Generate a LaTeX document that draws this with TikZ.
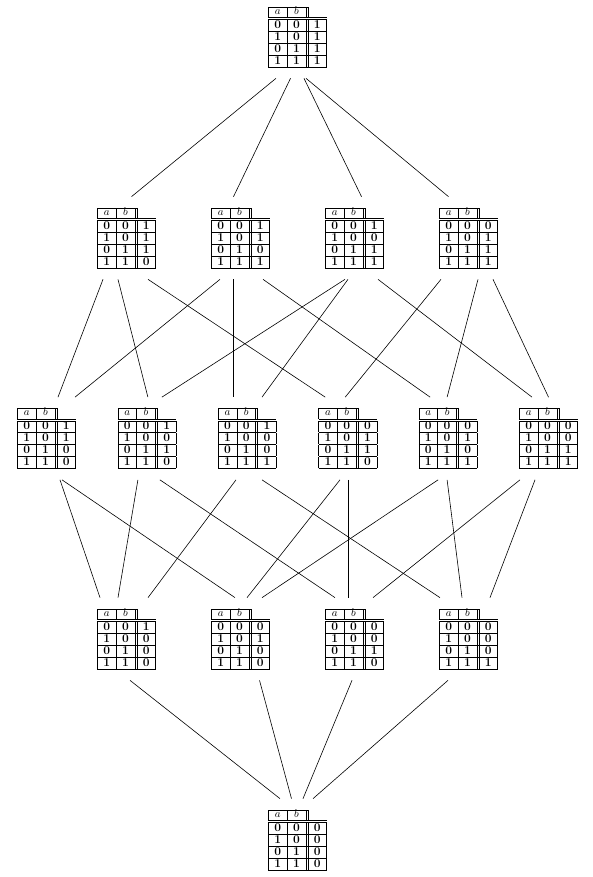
\documentclass[tikz,border=0pt]{standalone}
\usetikzlibrary{calc}

% truth table of a two-place function
\newcommand{\bits}[3]{\rule[-2.6pt]{0pt}{11.4pt}\textbf{\large #1} & \textbf{\large #2} & \textbf{\large #3}}
\newcommand{\truth}[4]{%
	{\renewcommand{\arraystretch}{0.72}%
	\setlength{\tabcolsep}{6pt}%
	\setlength{\arrayrulewidth}{0.5pt}%
	\begin{tabular}{|c|c||c|}
		\cline{1-2}
		\fontsize{11}{13}\selectfont$a$ & \fontsize{11}{13}\selectfont$b$ & \multicolumn{1}{c}{} \\ \hline\hline
		\bits{0}{0}{#1} \\ \hline
		\bits{1}{0}{#2} \\ \hline
		\bits{0}{1}{#3} \\ \hline
		\bits{1}{1}{#4} \\ \hline
	\end{tabular}}}

% line from below one table to above another, with shifts along x
\newcommand{\conn}[4]{\draw[line width=0.6pt] ($(#1.south)+(#2,-11)$) -- ($(#3.north)+(#4,11)$);}

\tikzset{tbl/.style={inner sep=0pt}}

\begin{document}
\begin{tikzpicture}[x=1pt,y=1pt]
		\useasboundingbox (0,0) rectangle (592,877);
		
		% top
		\node[tbl] (T) at (297.5,840) {\truth{1}{1}{1}{1}};
		
		% three ones
		\node[tbl] (P1) at (126.5,639) {\truth{1}{1}{1}{0}};
		\node[tbl] (P2) at (240.5,639) {\truth{1}{1}{0}{1}};
		\node[tbl] (P3) at (354.5,639) {\truth{1}{0}{1}{1}};
		\node[tbl] (P4) at (468.5,639) {\truth{0}{1}{1}{1}};
		
		% two ones
		\node[tbl] (Q1) at (46.5,438.5)  {\truth{1}{1}{0}{0}};
		\node[tbl] (Q2) at (146.9,438.5) {\truth{1}{0}{1}{0}};
		\node[tbl] (Q3) at (247.3,438.5) {\truth{1}{0}{0}{1}};
		\node[tbl] (Q4) at (347.7,438.5) {\truth{0}{1}{1}{0}};
		\node[tbl] (Q5) at (448.1,438.5) {\truth{0}{1}{0}{1}};
		\node[tbl] (Q6) at (548.5,438.5) {\truth{0}{0}{1}{1}};
		
		% one one
		\node[tbl] (R1) at (126.5,238) {\truth{1}{0}{0}{0}};
		\node[tbl] (R2) at (240.5,238) {\truth{0}{1}{0}{0}};
		\node[tbl] (R3) at (354.5,238) {\truth{0}{0}{1}{0}};
		\node[tbl] (R4) at (468.5,238) {\truth{0}{0}{0}{1}};
		
		% bottom
		\node[tbl] (B) at (297.5,37) {\truth{0}{0}{0}{0}};
		
		% top to three ones
		\conn{T}{-21.5}{P1}{5}
		\conn{T}{-7}{P2}{-7}
		\conn{T}{6.5}{P3}{7}
		\conn{T}{8.5}{P4}{-20}
		
		% three ones to two ones
		\conn{P1}{-23.5}{Q1}{11.5}
		\conn{P1}{-8.5}{Q2}{1}
		\conn{P1}{21.5}{Q4}{-22.5}
		\conn{P2}{-20.5}{Q1}{28.5}
		\conn{P2}{-7.5}{Q3}{-14.3}
		\conn{P2}{22.5}{Q5}{-18}
		\conn{P3}{-9.5}{Q2}{15}
		\conn{P3}{-6.5}{Q3}{14.7}
		\conn{P3}{23.5}{Q6}{-16.5}
		\conn{P4}{-27.5}{Q4}{-2.5}
		\conn{P4}{9.5}{Q5}{-1}
		\conn{P4}{24.5}{Q6}{0}
		
		% two ones to one one
		\conn{Q1}{13.5}{R1}{-26.5}
		\conn{Q1}{15.5}{R2}{-5.5}
		\conn{Q2}{-9}{R1}{-8.5}
		\conn{Q2}{13}{R3}{-19.5}
		\conn{Q3}{-11.3}{R1}{21.5}
		\conn{Q3}{14.7}{R4}{-28.5}
		\conn{Q4}{-7.7}{R2}{6.5}
		\conn{Q4}{0.3}{R3}{-6.5}
		\conn{Q5}{-10}{R2}{21.5}
		\conn{Q5}{-1}{R4}{-6.5}
		\conn{Q6}{-28.5}{R3}{18.5}
		\conn{Q6}{-13.5}{R4}{21.5}
		
		% one one to bottom
		\conn{R1}{3.5}{B}{-17.5}
		\conn{R2}{19}{B}{-6}
		\conn{R3}{-2.5}{B}{5.5}
		\conn{R4}{-20.5}{B}{15.5}
	\end{tikzpicture}
\end{document}
